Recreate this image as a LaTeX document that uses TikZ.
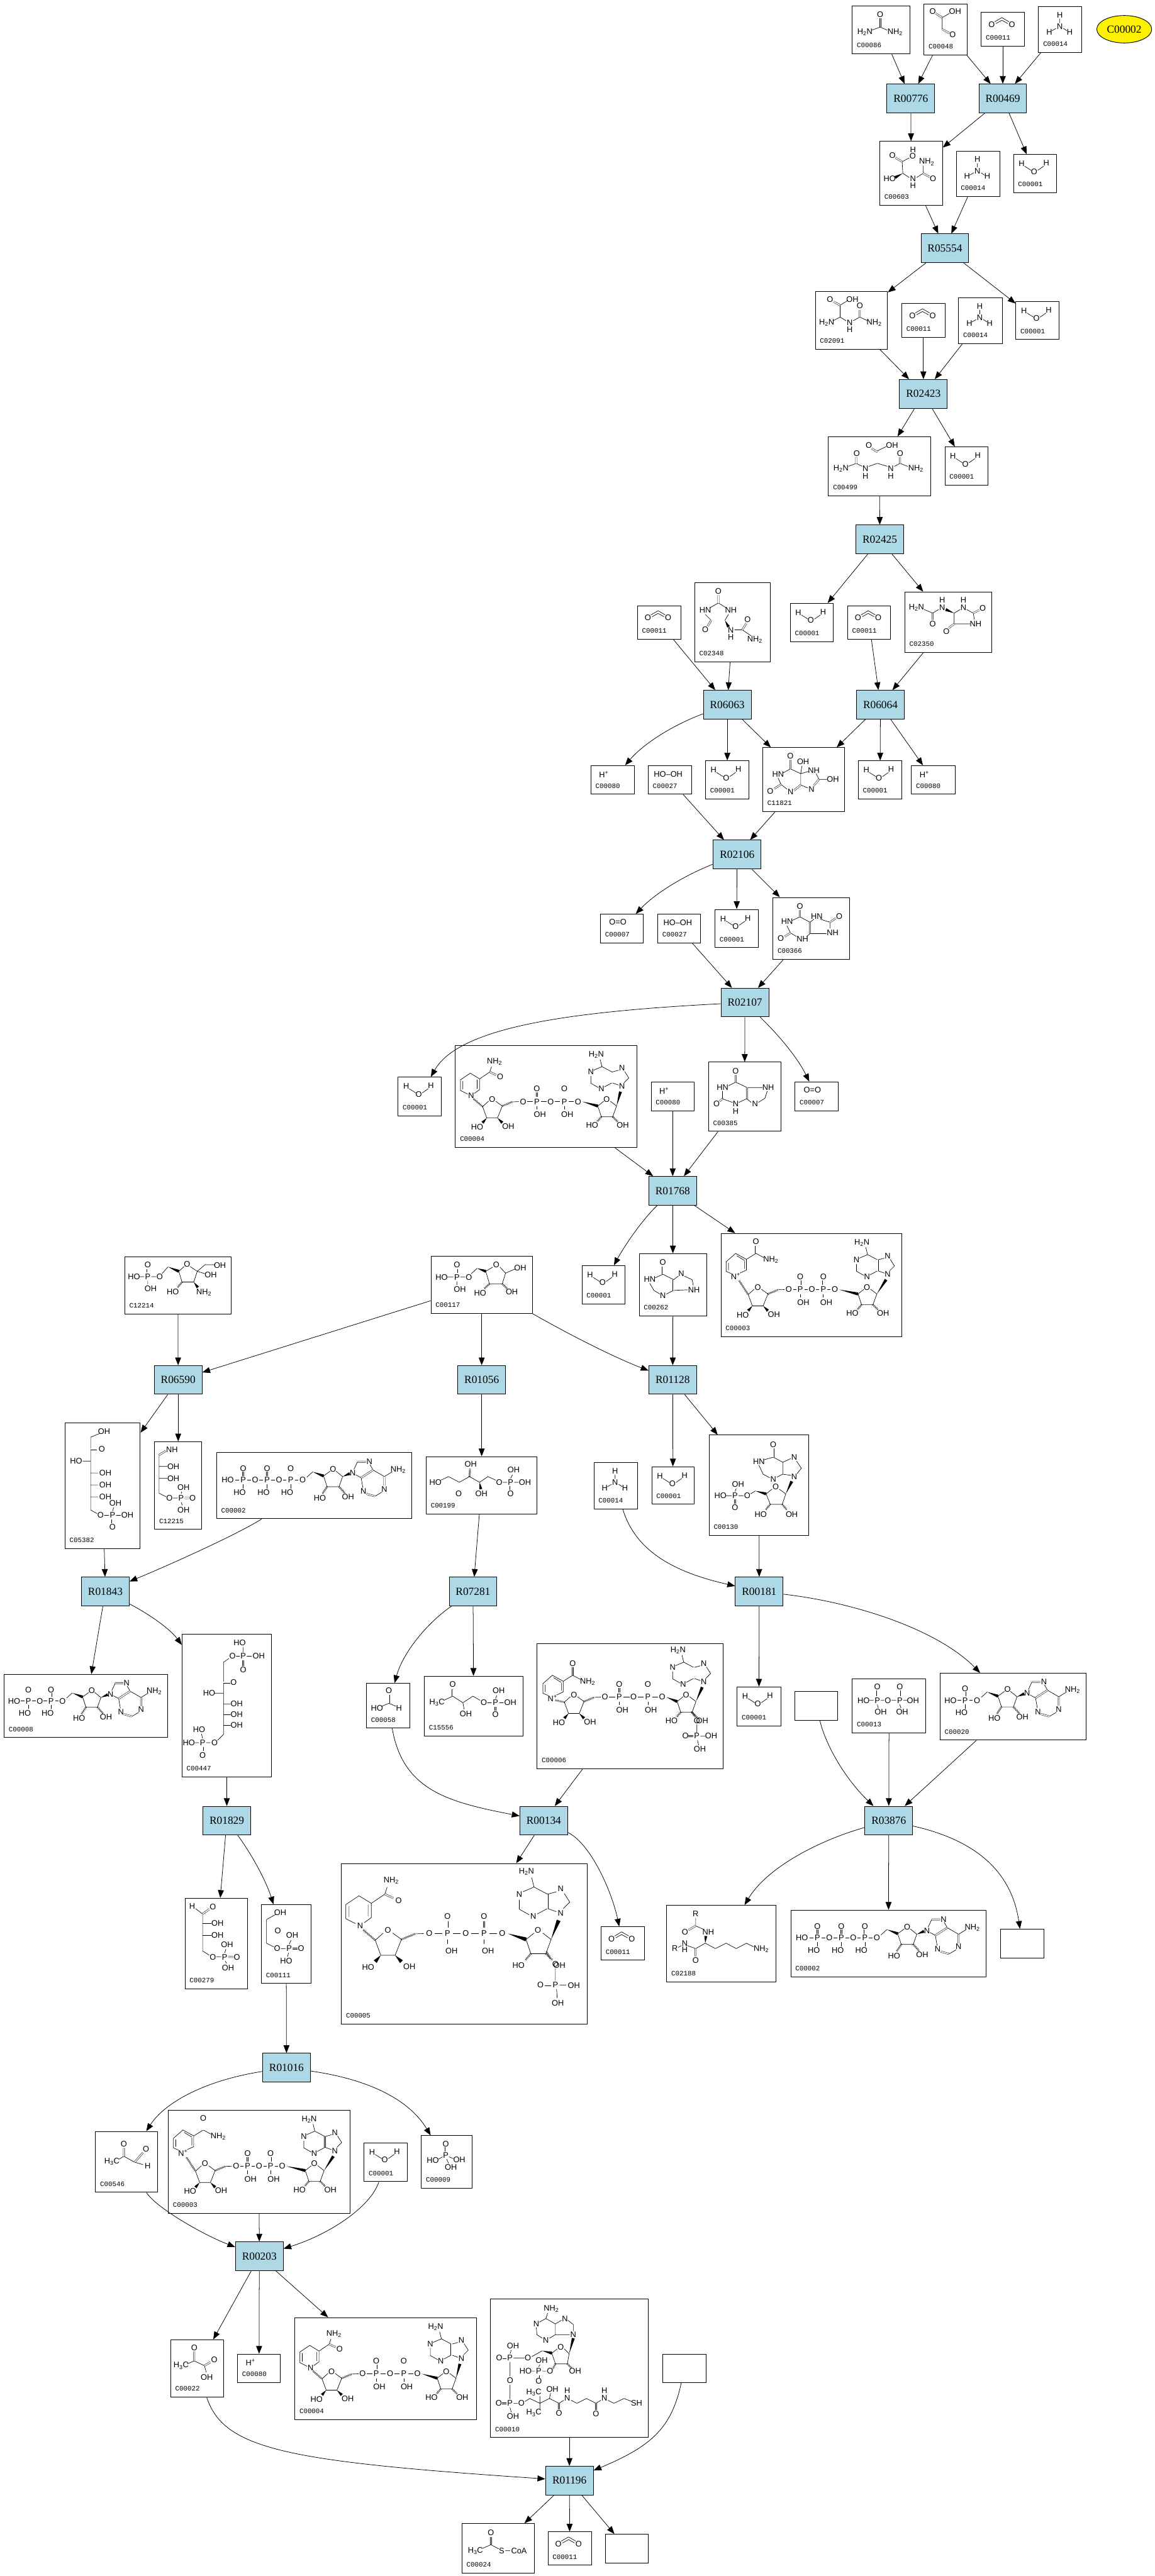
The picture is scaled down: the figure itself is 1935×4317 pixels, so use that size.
\documentclass[tikz,border=0pt]{standalone}
\usepackage{fontspec}
\usetikzlibrary{arrows.meta,calc,shapes.geometric}
\newfontfamily\atomfont{Liberation Sans}
\newfontfamily\tagfont{Liberation Mono}
\newfontfamily\rxnfont{Liberation Serif}
\definecolor{rxnblue}{HTML}{ADD8E6}
\newcounter{atomno}
\newcommand{\NHt}{NH\textsubscript{2}}
\newcommand{\HtN}{H\textsubscript{2}N}
\newcommand{\HtC}{H\textsubscript{3}C}
\newcommand{\atoms}[1]{\foreach \ax/\ay/\atxt in {#1}{\stepcounter{atomno}\node[atom] (atom\theatomno) at (\ax,\ay) {\atxt};}}
\newcommand{\wdg}[2]{\fill (#1) -- ($(#2)!2.5pt!90:(#1)$) -- ($(#2)!2.5pt!-90:(#1)$) -- cycle;}
\newcommand{\putmol}[2]{\begin{scope}[shift={(#1.north west)}] #2 \end{scope}}
% small molecules
\newcommand{\waterm}{\atoms{14/16/H,55.5/15/H,35/29/O}\draw[bond] (19,20)--(30,27) (41,27)--(51,20);}
\newcommand{\ammoniam}{\atoms{36/14.5/H,36/34/N,18.6/43/H,52.6/43/H}\draw[bond] (36,21)--(36,28) (23,41)--(30,37) (42,37)--(48,41);}
\newcommand{\cotwom}{\atoms{18/21/O,52/21/O}\draw[bond] (23,16)--(35,9)--(47,16) (25,19)--(35,13.5)--(45,19);}
\newcommand{\hplusm}{\atoms{22/15/H\textsuperscript{+}}}
\newcommand{\hperoxm}{\atoms{34/15/HO\textendash OH}}
\newcommand{\otwom}{\atoms{29.5/14/O=O}}
% phosphate with bridging oxygen, ATP family
\newcommand{\pgrp}[1]{\atoms{#1/0/P,#1/-19.5/O,#1-6/21/HO,#1+20/0/O}
  \draw[bond] (#1-13,0)--(#1-7,0) (#1+7,0)--(#1+13,0) (#1,7)--(#1,14);
  \draw[dbond] (#1,-14)--(#1,-7);}
\newcommand{\adoh}{\atoms{51/-18.5/O,84/-12/N,112/-31/N,102/19/N,137/15/N,160/-17/\NHt,29/30/HO,76/28/OH}
  \draw[bond] (7,-5)--(17,-14) (35,-7)--(46,-15) (56,-15)--(67,-6)--(61,11)--(41,11)--(35,-7)
    (86,-18)--(92,-31) (113,-26)--(118,-17) (98,-4)--(89,-9) (98,-4)--(101,13) (121,27)--(133,20)
    (137,-6)--(118,-17) (137,-6)--(150,-14);
  \draw[dbond] (92,-31)--(106,-31) (118,-17)--(98,-4) (107,23)--(121,27) (137,9)--(137,-6);
  \wdg{17,-14}{35,-7}\wdg{67,-6}{79,-11}
  \draw[hash] (41,11)--(33,23) (61,11)--(71,22);}
\newcommand{\atpm}{\begin{scope}[shift={(0,47)}]\atoms{19/0/HO}\pgrp{45}\pgrp{85}\pgrp{124.5}
  \begin{scope}[shift={(144.5,0)}]\adoh\end{scope}\end{scope}}
% NAD family
\newcommand{\pgrpn}[2]{\atoms{#1/94.6/P,#1/72.8/O,#1+5/116.5/OH,#1+#2/94.6/O}
  \draw[bond] (#1-#2+7,94.6)--(#1-7,94.6) (#1+7,94.6)--(#1+#2-7,94.6) (#1,102)--(#1,108);
  \draw[dbond] (#1,79)--(#1,87);}
\newcommand{\nicoh}{\atoms{27/85/N,66/28/\NHt,75.5/52.7/O}
  \draw[bond] (21,82)--(9,76)--(9,58)--(25.5,47)--(41,56.5)--(41,74.5)--(32,81) (41,56.5)--(58,45)--(61,36) (13,60)--(13,74) (37,58)--(37,73);
  \draw[dbond] (58,45)--(69,50);}
\newcommand{\nico}{\atoms{25/72.5/N\textsuperscript{+},59/14.5/O,84/45/\NHt}
  \draw[bond] (18,68)--(9,64)--(9,48)--(25,34)--(43,44)--(43,62)--(32,67) (43,44)--(59,34)--(72,41) (13,50)--(13,62) (27,38)--(40,46) (40,47)--(40,60);
  \draw[dbond] (59,21)--(59,34);}
\newcommand{\nadcore}[3]{\atoms{62/90.6/O,37/137/HO,89/136/OH,114/94.6/O}
  \draw[hash] (31,#3)--(46,103) (79,102)--(96,95);
  \draw[bond] (46,103)--(56,94) (68,94)--(79,102)--(71,122)--(53,122)--(46,103) (96,95)--(107,94.6);
  \wdg{53,122}{46,130}\wdg{71,122}{79,130}
  \pgrpn{114+#1}{#1}\pgrpn{114+3*#1}{#1}
  \atoms{#2+254/90.6/O,#2+229.5/134.6/HO,#2+281/134.6/OH}
  \wdg{114+4*#1+7,94.6}{#2+239,102}
  \draw[bond] (#2+239,102)--(#2+249,94) (#2+260,94)--(#2+270.5,102)--(#2+264,120)--(#2+245,120)--(#2+239,102);
  \draw[hash] (#2+245,120)--(#2+238,128) (#2+264,120)--(#2+272,128);
  \wdg{#2+270.5,102}{277,78}
  \atoms{279.5/69/N,279.5/38.4/N,245/73/N,227.5/45/N,236.5/16.5/\HtN}
  \draw[bond] (283,63)--(291,55)--(284,44) (274,42)--(263,45)--(246,36)--(232,42) (227.5,52)--(227.5,64)--(240,71) (250,70)--(263,63)--(274,67) (246,36)--(243,24);
  \draw[dbond] (263,45)--(263,63);}
\begin{document}
\begin{tikzpicture}[
    x=1pt, y=-1pt,
    rxn/.style={draw, line width=1pt, fill=rxnblue, minimum width=80pt, minimum height=48pt, inner sep=0pt, font=\rxnfont\fontsize{18.3}{18.3}\selectfont},
    tagtext/.style={inner sep=0pt, font=\tagfont\fontsize{11.4}{11.4}\selectfont},
    cmpd/.style n args={3}{draw, line width=1pt, minimum width=#1pt, minimum height=#2pt, inner sep=0pt,
      label={[tagtext, anchor=west, xshift=8pt, yshift=14.5pt]south west:#3}},
    atom/.style={inner sep=0pt, font=\atomfont\fontsize{13.5}{13.5}\selectfont},
    bond/.style={line width=.7pt},
    dbond/.style={double, double distance=1.8pt, line width=.55pt},
    hash/.style={line width=3pt, dash pattern=on .8pt off 1.3pt},
    link/.style={-{Triangle[length=13pt,width=10pt]}, line width=.8pt}
  ]
  \useasboundingbox (0,0) rectangle (1935,4317);

  % top: urea and glyoxylate
  \node[cmpd={97}{80}{C00086}]  (c00086)  at (1476.5,50) {};
  \node[cmpd={72}{85}{C00048}]  (c00048)  at (1584,49.5) {};
  \node[cmpd={72}{56}{C00011}]  (c00011a) at (1680,49) {};
  \node[cmpd={72}{77}{C00014}]  (c00014a) at (1776,49.5) {};
  \node[ellipse, draw, line width=1pt, fill=yellow, minimum width=92pt, minimum height=46pt, inner sep=0pt, font=\rxnfont\fontsize{18.3}{18.3}\selectfont] (c00002e) at (1883.5,49) {C00002};
  \node[rxn] (r00776) at (1526,165) {R00776};
  \node[rxn] (r00469) at (1680,165) {R00469};
  \node[cmpd={105}{107}{C00603}] (c00603)  at (1526.5,290.5) {};
  \node[cmpd={73}{76}{C00014}]   (c00014b) at (1638.5,291) {};
  \node[cmpd={72}{64}{C00001}]   (c00001a) at (1734,291) {};
  \node[rxn] (r05554) at (1583,416) {R05554};
  \node[cmpd={121}{96}{C02091}] (c02091)  at (1426.5,537) {};
  \node[cmpd={72}{56}{C00011}]  (c00011b) at (1547,537) {};
  \node[cmpd={73}{77}{C00014}]  (c00014c) at (1642.5,537.5) {};
  \node[cmpd={72}{64}{C00001}]  (c00001b) at (1738,537) {};
  \node[rxn] (r02423) at (1547,660) {R02423};
  \node[cmpd={171}{99}{C00499}] (c00499)  at (1473.5,781.5) {};
  \node[cmpd={72}{64}{C00001}]  (c00001c) at (1619,781) {};
  \node[rxn] (r02425) at (1474,904) {R02425};

  % allantoin to urate
  \node[cmpd={73}{56}{C00011}]   (c00011c) at (1104.5,1043) {};
  \node[cmpd={127}{133}{C02348}] (c02348)  at (1227.5,1042.5) {};
  \node[cmpd={72}{64}{C00001}]   (c00001d) at (1360,1043) {};
  \node[cmpd={72}{56}{C00011}]   (c00011d) at (1456,1043) {};
  \node[cmpd={146}{101}{C02350}] (c02350)  at (1589,1042.5) {};
  \node[rxn] (r06063) at (1218.5,1181) {R06063};
  \node[rxn] (r06064) at (1475,1181) {R06064};
  \node[cmpd={73}{48}{C00080}]   (c00080a) at (1026.5,1307) {};
  \node[cmpd={73}{48}{C00027}]   (c00027a) at (1122.5,1307) {};
  \node[cmpd={73}{64}{C00001}]   (c00001e) at (1218.5,1307) {};
  \node[cmpd={137}{107}{C11821}] (c11821)  at (1346.5,1306.5) {};
  \node[cmpd={73}{64}{C00001}]   (c00001f) at (1474.5,1307) {};
  \node[cmpd={73}{48}{C00080}]   (c00080b) at (1563.5,1307) {};
  \node[rxn] (r02106) at (1235,1432) {R02106};
  \node[cmpd={72}{48}{C00007}]   (c00007a) at (1042,1556) {};
  \node[cmpd={72}{48}{C00027}]   (c00027b) at (1138,1556) {};
  \node[cmpd={72}{64}{C00001}]   (c00001g) at (1234,1556) {};
  \node[cmpd={128}{104}{C00366}] (c00366)  at (1359,1556) {};
  \node[rxn] (r02107) at (1248,1680) {R02107};
  \node[cmpd={72}{65}{C00001}]   (c00001h) at (703,1837.5) {};
  \node[cmpd={304}{171}{C00004}] (c00004a) at (915,1837.5) {};
  \node[cmpd={72}{49}{C00080}]   (c00080c) at (1127,1837.5) {};
  \node[cmpd={121}{116}{C00385}] (c00385)  at (1247.5,1838) {};
  \node[cmpd={72}{49}{C00007}]   (c00007b) at (1368,1837.5) {};
  \node[rxn] (r01768) at (1127,1995.5) {R01768};

  % middle row
  \node[cmpd={72}{64}{C00001}]   (c00001i) at (1011,2153) {};
  \node[cmpd={113}{104}{C00262}] (c00262)  at (1127.5,2153) {};
  \node[cmpd={303}{173}{C00003}] (c00003a) at (1359.5,2153.5) {};
  \node[cmpd={178}{96}{C12214}]  (c12214)  at (298,2154) {};
  \node[cmpd={170}{96}{C00117}]  (c00117)  at (807,2153) {};
  \node[rxn] (r06590) at (298.5,2312.5) {R06590};
  \node[rxn] (r01056) at (807,2312.5) {R01056};
  \node[rxn] (r01128) at (1127,2312.5) {R01128};
  \node[cmpd={126}{210}{C05382}] (c05382)  at (172,2490) {};
  \node[cmpd={79}{147}{C12215}]  (c12215)  at (298.5,2489.5) {};
  \node[cmpd={327}{111}{C00002}] (c00002a) at (526.5,2489.5) {};
  \node[cmpd={186}{96}{C00199}]  (c00199)  at (807,2489) {};
  \node[cmpd={73}{78}{C00014}]   (c00014d) at (1031.5,2490) {};
  \node[cmpd={71}{63}{C00001}]   (c00001j) at (1127.5,2489.5) {};
  \node[cmpd={167}{168}{C00130}] (c00130)  at (1271.5,2489) {};
  \node[rxn] (r01843) at (176.5,2667) {R01843};
  \node[rxn] (r07281) at (792.5,2667) {R07281};
  \node[rxn] (r00181) at (1272,2667) {R00181};
  \node[cmpd={274}{106}{C00008}] (c00008)  at (144,2859) {};
  \node[cmpd={150}{239}{C00447}] (c00447)  at (380,2858.5) {};
  \node[cmpd={73}{75}{C00058}]   (c00058)  at (650.5,2858.5) {};
  \node[cmpd={165}{100}{C15556}] (c15556)  at (793.5,2859) {};
  \node[cmpd={311}{210}{C00006}] (c00006)  at (1055.5,2859) {};
  \node[cmpd={73}{65}{C00001}]   (c00001k) at (1271.5,2859.5) {};
  \node[cmpd={71}{48}{}]         (blanka)  at (1367.5,2859) {};
  \node[cmpd={123}{91}{C00013}]  (c00013)  at (1489.5,2858.5) {};
  \node[cmpd={245}{112}{C00020}] (c00020)  at (1697.5,2860) {};
  \node[rxn] (r01829) at (380,3051) {R01829};
  \node[rxn] (r00134) at (911,3051) {R00134};
  \node[rxn] (r03876) at (1489,3051) {R03876};
  \node[cmpd={105}{152}{C00279}] (c00279)  at (362.5,3257) {};
  \node[cmpd={83}{132}{C00111}]  (c00111)  at (479.5,3258) {};
  \node[cmpd={412}{269}{C00005}] (c00005)  at (778,3257.5) {};
  \node[cmpd={73}{56}{C00011}]   (c00011e) at (1043.5,3257) {};
  \node[cmpd={183}{128}{C02188}] (c02188)  at (1208.5,3257) {};
  \node[cmpd={327}{112}{C00002}] (c00002b) at (1488.5,3257) {};
  \node[cmpd={73}{48}{}]         (blankb)  at (1712.5,3257) {};

  % bottom
  \node[rxn] (r01016) at (480,3465) {R01016};
  \node[cmpd={104}{102}{C00546}] (c00546)  at (212,3623) {};
  \node[cmpd={304}{173}{C00003}] (c00003b) at (434,3622.5) {};
  \node[cmpd={72}{65}{C00001}]   (c00001l) at (646,3623.5) {};
  \node[cmpd={85}{88}{C00009}]   (c00009)  at (748.5,3623) {};
  \node[rxn] (r00203) at (434.5,3781) {R00203};
  \node[cmpd={89}{96}{C00022}]   (c00022)  at (330.5,3969) {};
  \node[cmpd={72}{48}{C00080}]   (c00080d) at (434,3969) {};
  \node[cmpd={304}{171}{C00004}] (c00004b) at (646,3969.5) {};
  \node[cmpd={264}{232}{C00010}] (c00010)  at (954,3969) {};
  \node[cmpd={73}{48}{}]         (blankc)  at (1146.5,3969) {};
  \node[rxn] (r01196) at (954,4157) {R01196};
  \node[cmpd={121}{83}{C00024}]  (c00024)  at (834.5,4270.5) {};
  \node[cmpd={73}{56}{C00011}]   (c00011f) at (954.5,4271) {};
  \node[cmpd={72}{48}{}]         (blankd)  at (1050,4271) {};

  % repeated small molecules
  \putmol{c00001a}{\waterm} \putmol{c00001b}{\waterm} \putmol{c00001c}{\waterm} \putmol{c00001d}{\waterm}
  \putmol{c00001e}{\waterm} \putmol{c00001f}{\waterm} \putmol{c00001g}{\waterm} \putmol{c00001h}{\waterm}
  \putmol{c00001i}{\waterm} \putmol{c00001j}{\waterm} \putmol{c00001k}{\waterm} \putmol{c00001l}{\waterm}
  \putmol{c00014a}{\ammoniam} \putmol{c00014b}{\ammoniam} \putmol{c00014c}{\ammoniam} \putmol{c00014d}{\ammoniam}
  \putmol{c00011a}{\cotwom} \putmol{c00011b}{\cotwom} \putmol{c00011c}{\cotwom}
  \putmol{c00011d}{\cotwom} \putmol{c00011e}{\cotwom} \putmol{c00011f}{\cotwom}
  \putmol{c00080a}{\hplusm} \putmol{c00080b}{\hplusm} \putmol{c00080c}{\hplusm} \putmol{c00080d}{\hplusm}
  \putmol{c00027a}{\hperoxm} \putmol{c00027b}{\hperoxm}
  \putmol{c00007a}{\otwom} \putmol{c00007b}{\otwom}

  % purine side chain
  \putmol{c00086}{\atoms{47/14.5/O,21.5/44/\HtN,72/44/\NHt}
    \draw[bond] (33,41)--(47,36)--(59,41); \draw[dbond] (47.5,21)--(47.5,36);}
  \putmol{c00048}{\atoms{15/13/O,52.6/13/OH,48.6/52/O}
    \draw[bond] (31,23)--(43,16) (31,23)--(31,42.5); \draw[dbond] (20,16)--(31,23) (31,42.5)--(43,49);}
  \putmol{c00603}{\atoms{56/14/H,55.5/24.5/O,21.6/24/O,79/35/\NHt,17/63/HO,56/63/N,56/75/H,89.5/63/O}
    \draw[bond] (38,34.5)--(50,28) (38,34.5)--(39,54)--(50,61) (62,61)--(73,54)--(73,41);
    \draw[dbond] (27,28)--(38,34.5) (73,54)--(84,60); \wdg{39,54}{26,61}}
  \putmol{c02091}{\atoms{25/13/O,62.5/13/OH,75/24/O,19.6/52/\HtN,58/52/N,58/63.5/H,99/52/\NHt}
    \draw[bond] (42,23)--(55,15) (42,23)--(42,43) (30,49)--(42,43)--(52,49) (64,49)--(75,43)--(88,49);
    \draw[dbond] (31,17)--(42,23) (75,31)--(75,43);}
  \putmol{c00499}{\atoms{68/15/O,107/15/OH,47.7/28/O,120.5/28/O,21.4/54/\HtN,62.5/54/N,62.5/66/H,105/54/N,105/66/H,147/54/\NHt}
    \draw[bond] (82.6,24)--(97,17) (34,50)--(47,45)--(57,50) (68,50)--(82.6,45)--(99,50) (111,50)--(120.5,45)--(133,50);
    \draw[dbond] (73,20)--(82.6,26) (47,35)--(47,45) (120.5,35)--(120.5,45);}
  \putmol{c02348}{\atoms{40/15/O,18/47/HN,61/47/NH,18/80/O,89/63/O,61/81/N,61/92/H,101/96/\NHt}
    \draw[bond] (40,35)--(26,43) (40,35)--(53,43) (18,54)--(28,64) (57,54)--(51,64) (67,80)--(80,80)--(95,90);
    \draw[dbond] (40,22)--(40,35) (28,64)--(22,74) (80,80)--(87,69); \wdg{51,64}{57,75}}
  \putmol{c02350}{\atoms{20/27/\HtN,47/54/O,63/27/N,63/14/H,98.6/27/N,98.6/14/H,131/28/O,119/54/NH,70/67/O}
    \draw[bond] (33,30)--(47,36)--(57,30) (83,36)--(93,30) (104,30)--(115,36)--(117,47) (83,36)--(83,54)--(110,54);
    \draw[dbond] (47,36)--(47,47) (115,36)--(125,31) (83,54)--(74,61); \wdg{83,36}{69,30}}
  \putmol{c11821}{\atoms{46.7/14/O,26/45/HN,13/73/O,47/74/N,68/24/OH,86/38.6/NH,118/53.6/OH,82/70/N}
    \draw[bond] (46.7,36)--(34,43) (46.7,36)--(64,44) (26,51)--(31,62)--(41,70) (64,63)--(64,44)--(66,31) (64,44)--(78,40) (90,44)--(94.5,53.6)--(108,53.6) (64,63)--(76,68);
    \draw[dbond] (46.7,21)--(46.7,36) (31,62)--(20,69) (94.5,53.6)--(86,64) (53,72)--(64,63);}
  \putmol{c00366}{\atoms{45.6/15/O,24/41/HN,13.5/68.6/O,50/70/NH,74/32/HN,111.6/32/O,100.4/60/NH}
    \draw[bond] (45.6,33)--(33,39) (45.6,33)--(62.5,42)--(69,37) (24,48)--(30,60)--(40,66) (57,66)--(62.5,61)--(90,61) (80,37)--(96,42)--(96,52);
    \draw[dbond] (45.6,22)--(45.6,33) (30,60)--(20,66) (62.5,42)--(62.5,61) (96,42)--(106,35);}
  \putmol{c00385}{\atoms{46/15/O,24/43/HN,14/70.5/O,46/70.5/N,46/82.6/H,100.5/43/NH,78.6/70.5/N}
    \draw[bond] (46,34)--(34,40) (46,34)--(65,43) (65,61.6)--(51,68) (24,49)--(24,62)--(41,68) (65,43)--(91,43) (99,49)--(95,61)--(84,68) (72,68)--(65,62);
    \draw[dbond] (46,22)--(46,34) (24,62)--(19,66) (65,43)--(65,61.6);}
  \putmol{c00262}{\atoms{40/15/O,18/43/HN,40/71/N,71/34/N,92/61/NH}
    \draw[bond] (40,35)--(27,41) (40,35)--(58,44)--(66,38) (18,50)--(25,62)--(35,68) (46,68)--(58,62)--(82,61) (76,38)--(89,44)--(91,54);
    \draw[dbond] (40,22)--(40,35) (58,44)--(58,62);}

  % NAD family
  \putmol{c00004a}{\nicoh \nadcore{23}{0}{90}}
  \putmol{c00004b}{\nicoh \nadcore{23}{0}{90}}
  \putmol{c00003a}{\nico \nadcore{19.3}{-9}{80}}
  \putmol{c00003b}{\nico \nadcore{19.3}{-9}{80}}
  \putmol{c00005}{\begin{scope}[shift={(-4,-8)}, scale=1.33]\nicoh \nadcore{23}{-3}{90}\end{scope}
    \atoms{359/169/O,359/204/P,334/204/O,390/205/OH,363/234/OH}
    \draw[bond] (359,176)--(359,197) (366,204)--(377,204) (361,211)--(362,226);
    \draw[dbond] (341,204)--(352,204); \draw[hash] (344,148)--(351,160);}
  \putmol{c00006}{\begin{scope}[shift={(1,20)}]\nico\end{scope}
    \begin{scope}[shift={(0,-4)}]\nadcore{24}{-4}{100}\end{scope}
    \atoms{268/130/O,268/156/P,249/156/O,292/156/OH,273/178/OH}
    \draw[bond] (268,136)--(268,150) (274,156)--(282,156) (269,163)--(271,171);
    \draw[dbond] (254,156)--(262,156); \draw[hash] (259,115)--(265,124);}

  % ATP family
  \putmol{c00002a}{\atpm}
  \putmol{c00002b}{\atpm}
  \putmol{c00008}{\begin{scope}[shift={(0,45)}, scale=.96]\atoms{18/0/HO}\pgrp{42.7}\pgrp{82.3}
    \begin{scope}[shift={(102.3,0)}]\adoh\end{scope}\end{scope}}
  \putmol{c00020}{\begin{scope}[shift={(0,46)}]\atoms{18/0/HO}\pgrp{42.4}
    \begin{scope}[shift={(62.4,0)}]\adoh\end{scope}\end{scope}}

  % sugars and phosphates
  \putmol{c00117}{\atoms{44/15.6/O,44/35.7/P,18.4/35.7/HO,49/56.7/OH,64/35.7/O,110/15.6/O,83/62.5/HO,136/60/OH,150/20/OH}
    \draw[bond] (28,35.7)--(38,35.7) (50,35.7)--(58,35.7) (44,43)--(44,49) (68,30)--(78,21) (92.3,26)--(104,19) (116,19)--(125.5,29)--(120,47)--(98.5,47)--(92.3,26) (125.5,29)--(142,22);
    \draw[dbond] (44,22)--(44,29); \wdg{78,21}{92.3,26}
    \draw[hash] (98.5,47)--(90,55) (120,47)--(128,55);}
  \putmol{c12214}{\atoms{39/14/O,39/34/P,16/34/HO,44/54/OH,59/34/O,105/13/O,81/59/HO,133/60/\NHt,160/15/OH,144.5/31/OH}
    \draw[bond] (25,34)--(33,34) (45,34)--(53,34) (39,41)--(39,47) (63,29)--(73,17.5) (91,25)--(100,17) (110,17)--(122,25)--(116,43)--(96.5,43)--(91,25) (122,25)--(135,14)--(152,14) (122,25)--(135,29);
    \draw[dbond] (39,21)--(39,27); \wdg{73,17.5}{91,25}\wdg{116,43}{123,52}
    \draw[hash] (96.5,43)--(89,52);}
  \putmol{c05382}{\atoms{66/14/OH,62/44/O,19/64/HO,68/84/OH,68/104/OH,68/124/OH,60/155/O,80/155/P,85/135/OH,105/155/OH,80/175/O}
    \draw[bond] (58,18)--(43.4,24)--(43.4,146)--(54,152) (30,64)--(43.4,64) (43.4,84)--(56,84) (43.4,104)--(56,104) (43.4,124)--(56,124) (66,155)--(74,155) (86,155)--(94,155) (80,148)--(82,142);
    \draw[dbond] (43.4,44)--(54,44) (80,162)--(80,168);}
  \putmol{c00447}{\atoms{97/15/HO,103/37/P,85/37/O,129/37/OH,103/60/O,87/81/O,46/99/HO,92/117/OH,92/135/OH,92/153/OH,55/182/O,35/182/P,12/182/HO,29/160/HO,35/203/O}
    \draw[bond] (91,37)--(97,37) (109,37)--(117,37) (103,22)--(103,30) (79,41)--(70,47)--(70,168)--(60,178) (55,99)--(70,99) (70,117)--(82,117) (70,135)--(82,135) (70,153)--(82,153) (48,182)--(41,182) (29,182)--(22,182) (35,175)--(33,167);
    \draw[dbond] (103,44)--(103,53) (70,81)--(81,81) (35,189)--(35,196);}
  \putmol{c12215}{\atoms{29.6/13.8/NH,32/42/OH,32/62/OH,25.5/95/O,45/95/P,49/77/OH,49/115/OH,64/95/O}
    \draw[bond] (8,23)--(8,87)--(20,93) (8,42)--(22,42) (8,62)--(22,62) (31,95)--(39,95) (45,88)--(46,84) (45,102)--(47,107);
    \draw[dbond] (8,23)--(19,16) (51,95)--(58,95);}
  \putmol{c00199}{\atoms{16/43.6/HO,55/63/O,75/13.4/OH,93/63/OH,123/43.6/O,142/43.6/P,147/23/OH,166/43.6/OH,142/63/O}
    \draw[bond] (25,40)--(38,34)--(56,43.6)--(73,34)--(90,43.6)--(104,34)--(117,40) (129,43.6)--(136,43.6) (148,43.6)--(155,43.6) (142,37)--(145,31);
    \draw[dbond] (56,43.6)--(56,56) (142,50)--(142,56); \draw[hash] (73,34)--(74,21); \wdg{90,43.6}{92,55}}
  \putmol{c15556}{\atoms{21.5/45/\HtC,48/14.5/O,70/64/OH,100/45/O,119.6/45/P,125/25/OH,144.5/45/OH,119.6/65/O}
    \draw[bond] (33,41)--(48,34)--(65,45)--(81.8,34)--(94,41) (65,45)--(67,56) (106,45)--(113,45) (126,45)--(133,45) (119.6,38)--(122,33);
    \draw[dbond] (48,22)--(48,34) (119.6,52)--(119.6,58);}
  \putmol{c00058}{\atoms{38/13/O,18/42.5/HO,55/42.5/H}
    \draw[bond] (26,39)--(38,34)--(50,39); \draw[dbond] (38,20)--(38,34);}
  \putmol{c00130}{\atoms{108/16/O,84/45/HN,108/74.5/N,143/38/N,143/70/N,112/87.5/O,87/133.5/HO,139/133.5/OH,64.5/102/O,44/102/P,19.4/102/HO,49/83/OH,44/121.4/O}
    \draw[bond] (108,37.5)--(92,42) (108,37.5)--(124,46)--(124,66) (84,51)--(91,66)--(102,72) (114,71)--(124,66)--(138,68) (124,46)--(137,40) (147,44)--(155,56)--(148,65) (96,99)--(106,91) (118,91)--(129,99)--(123,116.5)--(103,116.5)--(96,99) (70,99)--(78,94) (28,102)--(38,102) (50,102)--(58,102) (44,95)--(46,90);
    \draw[dbond] (108,23)--(108,37.5) (44,108)--(44,115);
    \wdg{129,99}{139,78}\wdg{78,94}{96,99}
    \draw[hash] (103,116.5)--(95,126) (123,116.5)--(131,126);}
  \putmol{c00013}{\atoms{42.4/14.7/O,42.4/37/P,19.4/37/HO,48/56.7/OH,60/37/O,80/37/P,80/14.7/O,102/37/OH,84/56.7/OH}
    \draw[bond] (29,37)--(36,37) (48,37)--(54,37) (66,37)--(74,37) (86,37)--(93,37) (42.4,44)--(44,50) (80,44)--(82,50);
    \draw[dbond] (42.4,21)--(42.4,30) (80,21)--(80,30);}
  \putmol{c00009}{\atoms{41.4/14.6/O,41.4/33/P,19.6/42/HO,64/41/OH,50/53.6/OH}
    \draw[bond] (29,40)--(36,36) (47,36)--(54,39) (43,40)--(46,47); \draw[dbond] (41.4,20)--(41.4,27);}
  \putmol{c00022}{\atoms{40/14/O,18/44/\HtC,73.5/34/O,61/63/OH}
    \draw[bond] (28,41)--(40,36)--(57,44)--(60,55); \draw[dbond] (40,20)--(40,36) (57,44)--(67,38);}
  \putmol{c00546}{\atoms{28/51/\HtC,48/21/O,85/30/O,88/58/H}
    \draw[bond] (40,47)--(48,42)--(66,52)--(80,56); \draw[dbond] (48,28)--(48,42) (66,52)--(80,36);}
  \putmol{c00279}{\atoms{12.6/14/H,47/15/O,55/43/OH,55/63/OH,47/99/O,67/99/P,71/78.6/OH,87.5/99/O,72.5/117/OH}
    \draw[bond] (18,18)--(30,27)--(30,89)--(41,96) (30,43)--(45,43) (30,63)--(45,63) (53,99)--(61,99) (67,92)--(69,86) (68,106)--(70,110);
    \draw[dbond] (30,27)--(41,19) (73,99)--(81,99);}
  \putmol{c00111}{\atoms{32/14/OH,28/44/O,27/74/O,47/74/P,52/52/OH,67/74/O,42/95/HO}
    \draw[bond] (24,17)--(9,25.4)--(9,65)--(21,71) (33,74)--(41,74) (47,67)--(50,60) (46,81)--(44,88);
    \draw[dbond] (9,44)--(21,44) (53,74)--(61,74);}
  \putmol{c00024}{\atoms{49/16/O,23/46/\HtC,67/46/S,96/46/CoA}
    \draw[bond] (35,42)--(49,36)--(62,43) (73,46)--(81,46); \draw[dbond] (49,23)--(49,36);}
  \putmol{c02188}{\atoms{49/15/R,31/45/O,70/45/NH,49/93/O,30.6/64/N,30.6/75/H,14/73/R,159/74/\NHt}
    \draw[bond] (49,22)--(49,35)--(63,41) (35,68)--(49,73)--(65,64)--(82,73)--(100,64)--(117,73)--(134,64)--(146,70) (20,71)--(25,68);
    \draw[dbond] (49,35)--(37,42) (49,73)--(49,86); \wdg{65,64}{66,52}}
  \putmol{c00010}{\atoms{102/17/\NHt,77/42/N,93/69/N,125/33/N,139/60/N,118/81/O,63/99/O,142/121/OH,100/121/O,81/121/P,59/121/HO,86/103/OH,81/138/O,33/99/P,38/79/OH,15/99/O,33/137/O,33/175/P,14/175/O,38/197/OH,52/175/O,73/157/\HtC,73/191/\HtC,104/151/OH,115/192/O,129/166/N,129/154/H,177/193/O,191/166/N,191/154/H,245/175/SH}
    \draw[bond] (93,33)--(96,24) (93,33)--(82,39) (77,48)--(78,60)--(87,66) (99,66)--(109,60)--(109,42)--(93,33) (109,42)--(119,36) (130,36)--(139,43)--(139,54) (109,60)--(133,60) (103,91)--(112,84) (124,84)--(132,92)--(129,109)--(109,109)--(103,91) (69,97)--(87,87) (68,121)--(75,121) (87,121)--(94,121) (81,114)--(83,110) (33,106)--(33,130) (33,144)--(33,168) (33,92)--(35,86) (39,99)--(57,99) (39,175)--(46,175) (33,182)--(35,190) (58,172)--(66,167)--(83,175)--(99,167)--(115,175)--(123,170) (83,163)--(83,185) (99,167)--(101,158) (135,170)--(145,175)--(161,167)--(177,175)--(185,170) (197,170)--(207,175)--(224,167)--(237,172);
    \draw[dbond] (81,128)--(81,132) (21,99)--(27,99) (20,175)--(27,175) (115,175)--(115,185) (177,175)--(177,186);
    \wdg{87,87}{103,91}\wdg{132,92}{139,66}
    \draw[hash] (109,109)--(105,117) (129,109)--(136,116);}

  % connectors, top part
  \draw[link] (c00086) -- (r00776);
  \draw[link] (c00048) -- (r00776);
  \draw[link] (c00048) -- (r00469);
  \draw[link] (c00011a) -- (r00469);
  \draw[link] (c00014a) -- (r00469);
  \draw[link] (r00776) -- (c00603);
  \draw[link] (r00469) -- (c00603);
  \draw[link] (r00469) -- (c00001a);
  \draw[link] (c00603) -- (r05554);
  \draw[link] (c00014b) -- (r05554);
  \draw[link] (r05554) -- (c02091);
  \draw[link] (r05554) -- (c00001b);
  \draw[link] (c02091) -- (r02423);
  \draw[link] (c00011b) -- (r02423);
  \draw[link] (c00014c) -- (r02423);
  \draw[link] (r02423) -- (c00499);
  \draw[link] (r02423) -- (c00001c);
  \draw[link] (c00499) -- (r02425);
  \draw[link] (r02425) -- (c00001d);
  \draw[link] (r02425) -- (c02350);
  \draw[link] (c00011c) -- (r06063);
  \draw[link] (c02348) -- (r06063);
  \draw[link] (c00011d) -- (r06064);
  \draw[link] (c02350) -- (r06064);
  \draw[link] (r06063) .. controls (1120,1218) and (1075,1250) .. (c00080a);
  \draw[link] (r06063) -- (c00001e);
  \draw[link] (r06063) -- (c11821);
  \draw[link] (r06064) -- (c11821);
  \draw[link] (r06064) -- (c00001f);
  \draw[link] (r06064) -- (c00080b);
  \draw[link] (c00027a) -- (r02106);
  \draw[link] (c11821) -- (r02106);
  \draw[link] (r02106) .. controls (1140,1470) and (1095,1500) .. (c00007a);
  \draw[link] (r02106) -- (c00001g);
  \draw[link] (r02106) -- (c00366);
  \draw[link] (c00027b) -- (r02107);
  \draw[link] (c00366) -- (r02107);
  \draw[link] (r02107) .. controls (960,1695) and (770,1720) .. (c00001h);
  \draw[link] (r02107) -- (c00385);
  \draw[link] (r02107) .. controls (1300,1730) and (1335,1770) .. (c00007b);
  \draw[link] (c00004a) -- (r01768);
  \draw[link] (c00080c) -- (r01768);
  \draw[link] (c00385) -- (r01768);
  \draw[link] (r01768) .. controls (1075,2045) and (1045,2090) .. (c00001i);
  \draw[link] (r01768) -- (c00262);
  \draw[link] (r01768) -- (c00003a);

  % connectors, middle part
  \draw[link] (c00262) -- (r01128);
  \draw[link] (c00117) .. controls (960,2240) and (1030,2275) .. (r01128);
  \draw[link] (c00117) -- (r01056);
  \draw[link] (c00117) -- (r06590);
  \draw[link] (c12214) -- (r06590);
  \draw[link] (r06590) -- (c05382);
  \draw[link] (r06590) -- (c12215);
  \draw[link] (r01056) -- (c00199);
  \draw[link] (r01128) -- (c00001j);
  \draw[link] (r01128) -- (c00130);
  \draw[link] (c05382) -- (r01843);
  \draw[link] (c00002a) .. controls (400,2570) and (290,2620) .. (r01843);
  \draw[link] (c00199) -- (r07281);
  \draw[link] (c00014d) .. controls (1065,2600) and (1130,2635) .. (r00181);
  \draw[link] (c00130) -- (r00181);
  \draw[link] (r01843) -- (c00008);
  \draw[link] (r01843) .. controls (250,2705) and (285,2730) .. (c00447);
  \draw[link] (r07281) .. controls (715,2720) and (675,2770) .. (c00058);
  \draw[link] (r07281) -- (c15556);
  \draw[link] (r00181) -- (c00001k);
  \draw[link] (r00181) .. controls (1430,2685) and (1570,2730) .. (c00020);
  \draw[link] (c00447) -- (r01829);
  \draw[link] (c00058) .. controls (675,3000) and (750,3020) .. (r00134);
  \draw[link] (c00006) -- (r00134);
  \draw[link] (blanka) .. controls (1385,2930) and (1420,2985) .. (r03876);
  \draw[link] (c00013) -- (r03876);
  \draw[link] (c00020) -- (r03876);
  \draw[link] (r01829) -- (c00279);
  \draw[link] (r01829) .. controls (420,3105) and (445,3150) .. (c00111);
  \draw[link] (r00134) -- (c00005);
  \draw[link] (r00134) .. controls (990,3090) and (1025,3170) .. (c00011e);
  \draw[link] (r03876) .. controls (1370,3085) and (1285,3130) .. (c02188);
  \draw[link] (r03876) -- (c00002b);
  \draw[link] (r03876) .. controls (1640,3085) and (1695,3140) .. (blankb);

  % connectors, bottom part
  \draw[link] (c00111) -- (r01016);
  \draw[link] (r01016) .. controls (340,3487) and (275,3525) .. (c00546);
  \draw[link] (r01016) .. controls (600,3482) and (680,3510) .. (c00009);
  \draw[link] (c00546) .. controls (262,3700) and (340,3745) .. (r00203);
  \draw[link] (c00003b) -- (r00203);
  \draw[link] (c00001l) .. controls (620,3700) and (550,3745) .. (r00203);
  \draw[link] (r00203) -- (c00022);
  \draw[link] (r00203) -- (c00080d);
  \draw[link] (r00203) -- (c00004b);
  \draw[link] (c00022) .. controls (375,4105) and (480,4125) .. (r01196);
  \draw[link] (c00010) -- (r01196);
  \draw[link] (blankc) .. controls (1125,4070) and (1090,4100) .. (r01196);
  \draw[link] (r01196) -- (c00024);
  \draw[link] (r01196) -- (c00011f);
  \draw[link] (r01196) -- (blankd);
\end{tikzpicture}
\end{document}
